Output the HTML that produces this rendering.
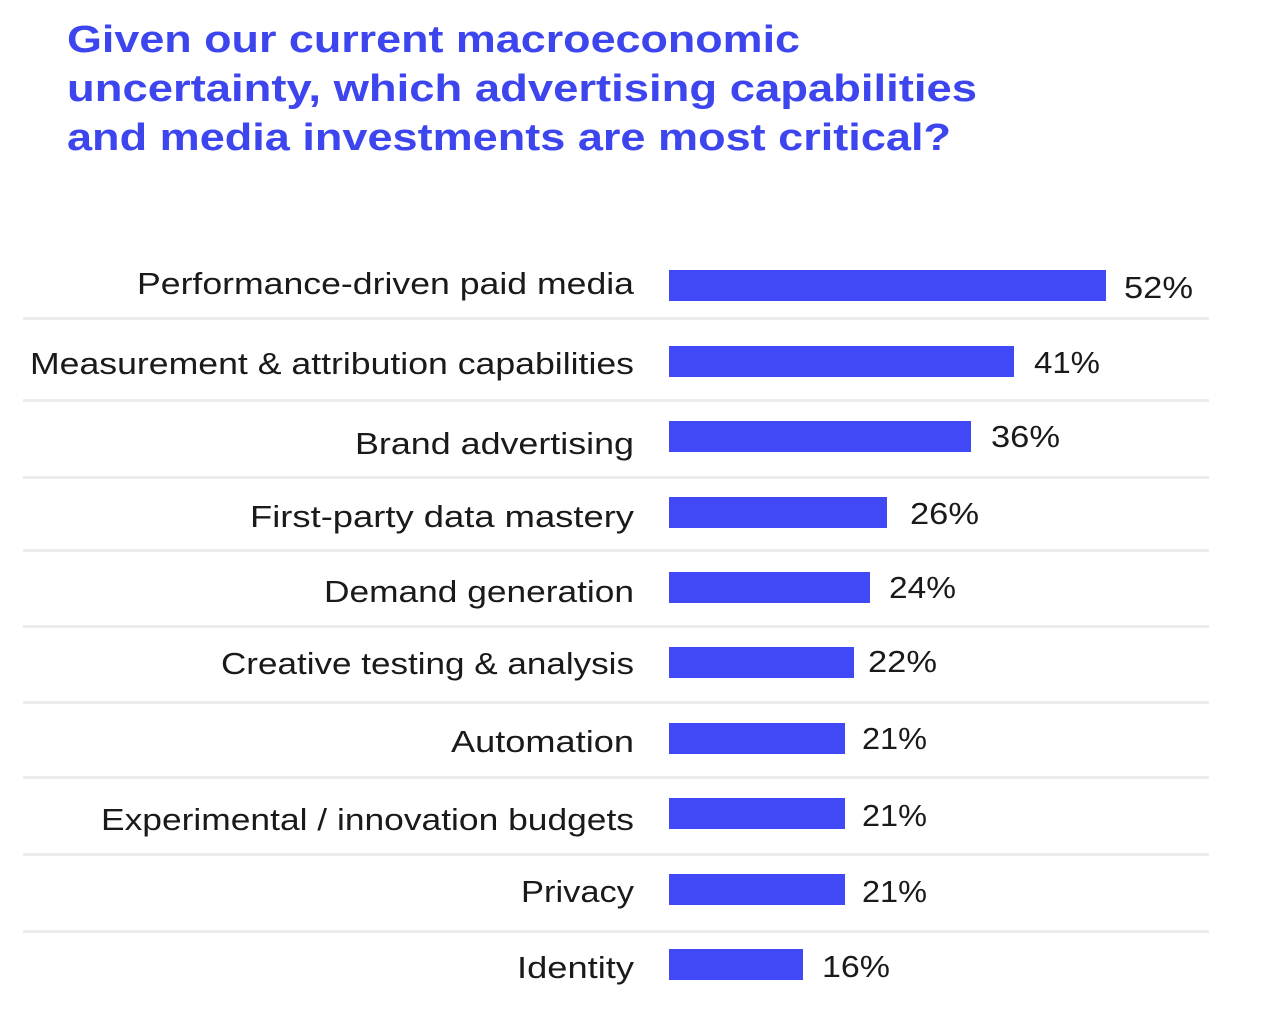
<!DOCTYPE html>
<html><head><meta charset="utf-8"><style>
html,body{margin:0;padding:0;background:#fff;}
svg{display:block;}
</style></head><body>
<svg width="1280" height="1018" viewBox="0 0 1280 1018" xmlns="http://www.w3.org/2000/svg">
<g font-family="Liberation Sans, sans-serif" font-weight="bold" fill="#3d45ee" font-size="38">
<text x="67" y="52" textLength="733" lengthAdjust="spacingAndGlyphs">Given our current macroeconomic</text>
<text x="67" y="101" textLength="910" lengthAdjust="spacingAndGlyphs">uncertainty, which advertising capabilities</text>
<text x="67" y="150" textLength="884" lengthAdjust="spacingAndGlyphs">and media investments are most critical?</text>
</g>
<g fill="#ececec">
<rect x="23" y="317" width="1186" height="3"/>
<rect x="23" y="399" width="1186" height="3"/>
<rect x="23" y="476" width="1186" height="3"/>
<rect x="23" y="549" width="1186" height="3"/>
<rect x="23" y="625" width="1186" height="3"/>
<rect x="23" y="701" width="1186" height="3"/>
<rect x="23" y="776" width="1186" height="3"/>
<rect x="23" y="853" width="1186" height="3"/>
<rect x="23" y="930" width="1186" height="3"/>
</g>
<g fill="#4049f5">
<rect x="669" y="270" width="437" height="31"/>
<rect x="669" y="346" width="345" height="31"/>
<rect x="669" y="421" width="302" height="31"/>
<rect x="669" y="497" width="218" height="31"/>
<rect x="669" y="572" width="201" height="31"/>
<rect x="669" y="647" width="185" height="31"/>
<rect x="669" y="723" width="176" height="31"/>
<rect x="669" y="798" width="176" height="31"/>
<rect x="669" y="874" width="176" height="31"/>
<rect x="669" y="949" width="134" height="31"/>
</g>
<g font-family="Liberation Sans, sans-serif" font-size="31" fill="#1a1a1a" text-anchor="end">
<text x="634" y="294" textLength="497" lengthAdjust="spacingAndGlyphs">Performance-driven paid media</text>
<text x="634" y="374" textLength="604" lengthAdjust="spacingAndGlyphs">Measurement &amp; attribution capabilities</text>
<text x="634" y="454" textLength="279" lengthAdjust="spacingAndGlyphs">Brand advertising</text>
<text x="634" y="527" textLength="384" lengthAdjust="spacingAndGlyphs">First-party data mastery</text>
<text x="634" y="602" textLength="310" lengthAdjust="spacingAndGlyphs">Demand generation</text>
<text x="634" y="674" textLength="413" lengthAdjust="spacingAndGlyphs">Creative testing &amp; analysis</text>
<text x="634" y="752" textLength="183" lengthAdjust="spacingAndGlyphs">Automation</text>
<text x="634" y="830" textLength="533" lengthAdjust="spacingAndGlyphs">Experimental / innovation budgets</text>
<text x="634" y="902" textLength="113" lengthAdjust="spacingAndGlyphs">Privacy</text>
<text x="634" y="978" textLength="117" lengthAdjust="spacingAndGlyphs">Identity</text>
</g>
<g font-family="Liberation Sans, sans-serif" font-size="31" fill="#1a1a1a">
<text x="1124" y="298" textLength="69" lengthAdjust="spacingAndGlyphs">52%</text>
<text x="1034" y="373" textLength="66" lengthAdjust="spacingAndGlyphs">41%</text>
<text x="991" y="447" textLength="69" lengthAdjust="spacingAndGlyphs">36%</text>
<text x="910" y="524" textLength="69" lengthAdjust="spacingAndGlyphs">26%</text>
<text x="889" y="598" textLength="67" lengthAdjust="spacingAndGlyphs">24%</text>
<text x="868" y="672" textLength="69" lengthAdjust="spacingAndGlyphs">22%</text>
<text x="862" y="749" textLength="65" lengthAdjust="spacingAndGlyphs">21%</text>
<text x="862" y="826" textLength="65" lengthAdjust="spacingAndGlyphs">21%</text>
<text x="862" y="902" textLength="65" lengthAdjust="spacingAndGlyphs">21%</text>
<text x="822" y="977" textLength="68" lengthAdjust="spacingAndGlyphs">16%</text>
</g>
</svg>
</body></html>
